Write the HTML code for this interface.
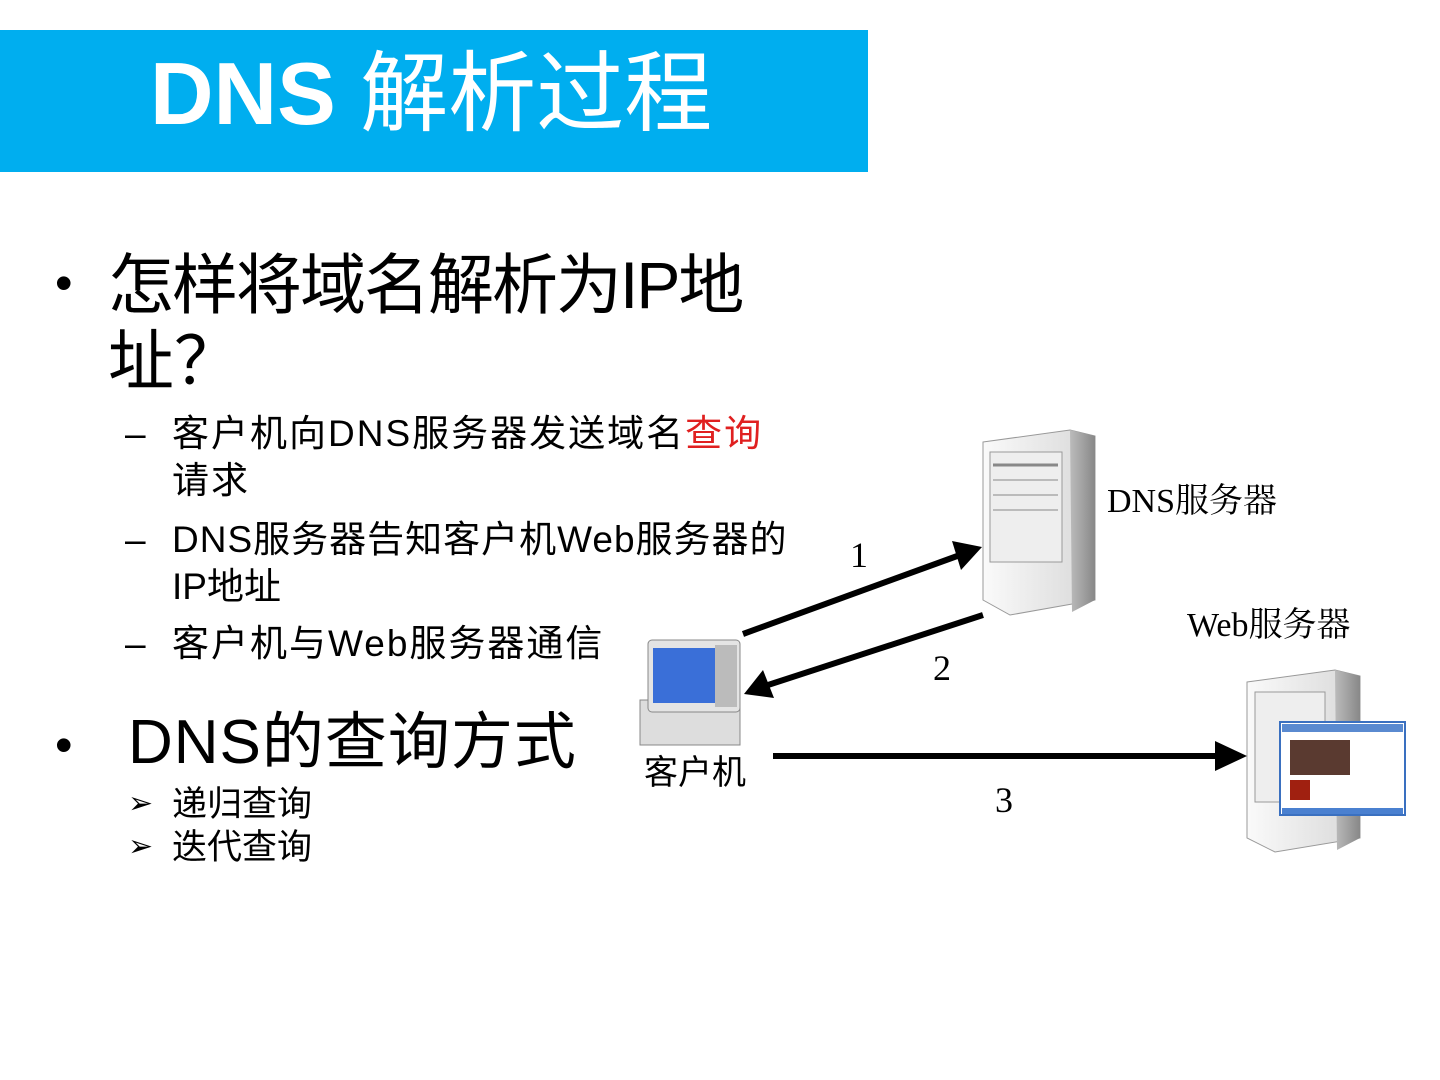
<!DOCTYPE html>
<html><head><meta charset="utf-8"><style>
body{margin:0;width:1440px;height:1080px;background:#fff;position:relative;overflow:hidden;font-family:"Liberation Sans","Noto Sans CJK SC",sans-serif;color:#000}
.a{position:absolute;white-space:nowrap;line-height:1}
.serif{font-family:"Liberation Serif","Noto Serif CJK SC",serif}
</style></head><body>
<div style="position:absolute;left:0;top:30px;width:868px;height:142px;background:#00aeef"></div>
<div class="a" style="left:150px;top:50px;font-size:88px;color:#fff"><b>DNS</b> 解析过程</div>

<div class="a" style="left:55px;top:258px;font-size:50px">•</div>
<div class="a" style="left:108px;top:252px;font-size:66px;letter-spacing:-2px">怎样将域名解析为IP地</div>
<div class="a" style="left:108px;top:328px;font-size:66px">址？</div>

<div class="a" style="left:125px;top:415px;font-size:37px">–</div>
<div class="a" style="left:172px;top:415px;font-size:37px;letter-spacing:2px">客户机向DNS服务器发送域名<span style="color:#e02020">查询</span></div>
<div class="a" style="left:172px;top:462px;font-size:37px;letter-spacing:2px">请求</div>
<div class="a" style="left:125px;top:521px;font-size:37px">–</div>
<div class="a" style="left:172px;top:521px;font-size:37px;letter-spacing:1px">DNS服务器告知客户机Web服务器的</div>
<div class="a" style="left:172px;top:568px;font-size:37px">IP地址</div>
<div class="a" style="left:125px;top:625px;font-size:37px">–</div>
<div class="a" style="left:172px;top:625px;font-size:37px;letter-spacing:2px">客户机与Web服务器通信</div>

<div class="a" style="left:55px;top:720px;font-size:50px">•</div>
<div class="a" style="left:128px;top:712px;font-size:62px;letter-spacing:1px">DNS的查询方式</div>
<div class="a" style="left:128px;top:789px;font-size:30px">➢</div>
<div class="a" style="left:172px;top:787px;font-size:35px">递归查询</div>
<div class="a" style="left:128px;top:832px;font-size:30px">➢</div>
<div class="a" style="left:172px;top:830px;font-size:35px">迭代查询</div>

<svg width="1440" height="1080" style="position:absolute;left:0;top:0">
<defs>
<linearGradient id="srv" x1="0" x2="1"><stop offset="0" stop-color="#fafafa"/><stop offset="1" stop-color="#d8d8d8"/></linearGradient>
<linearGradient id="side" x1="0" x2="1"><stop offset="0" stop-color="#bbb"/><stop offset="1" stop-color="#888"/></linearGradient>
</defs>
<polygon points="983,442 1070,430 1095,436 1095,600 1010,615 983,600" fill="url(#srv)" stroke="#999"/>
<polygon points="1070,430 1095,436 1095,600 1072,612" fill="url(#side)"/>
<rect x="990" y="452" width="72" height="110" fill="#eee" stroke="#999"/>
<line x1="993" y1="465" x2="1058" y2="465" stroke="#888" stroke-width="3"/>
<line x1="993" y1="480" x2="1058" y2="480" stroke="#888"/>
<line x1="993" y1="495" x2="1058" y2="495" stroke="#888"/>
<line x1="993" y1="510" x2="1058" y2="510" stroke="#888"/>
<rect x="640" y="700" width="100" height="45" fill="#ddd" stroke="#888"/>
<rect x="648" y="640" width="92" height="72" rx="4" fill="#e4e4e4" stroke="#888"/>
<rect x="653" y="648" width="62" height="55" fill="#3a6fd8"/>
<rect x="715" y="645" width="22" height="62" fill="#bbb"/>
<polygon points="1247,682 1335,670 1360,676 1360,838 1275,852 1247,838" fill="url(#srv)" stroke="#999"/>
<polygon points="1335,670 1360,676 1360,838 1337,850" fill="url(#side)"/>
<rect x="1255" y="692" width="70" height="110" fill="#eee" stroke="#999"/>
<rect x="1280" y="722" width="125" height="93" fill="#fff" stroke="#3a70c0" stroke-width="2"/>
<rect x="1282" y="724" width="121" height="8" fill="#5a8ad0"/>
<rect x="1290" y="740" width="60" height="35" fill="#5a3a30"/>
<rect x="1290" y="780" width="20" height="20" fill="#a02010"/>
<rect x="1282" y="808" width="121" height="6" fill="#4a80d0"/>
<g stroke="#000" stroke-width="6" fill="#000">
<line x1="743" y1="634" x2="960" y2="555"/>
<line x1="983" y1="615" x2="768" y2="685"/>
<line x1="773" y1="756" x2="1220" y2="756"/>
</g>
<polygon points="982,547 952,541 961,570" fill="#000"/>
<polygon points="744,694 763,670 774,698" fill="#000"/>
<polygon points="1247,756 1215,741 1215,771" fill="#000"/>
</svg>
<div class="a serif" style="left:850px;top:537px;font-size:36px">1</div>
<div class="a serif" style="left:933px;top:650px;font-size:36px">2</div>
<div class="a serif" style="left:995px;top:782px;font-size:36px">3</div>
<div class="a serif" style="left:1107px;top:485px;font-size:34px">DNS服务器</div>
<div class="a serif" style="left:1187px;top:609px;font-size:34px">Web服务器</div>
<div class="a" style="left:644px;top:756px;font-size:34px">客户机</div>
</body></html>
